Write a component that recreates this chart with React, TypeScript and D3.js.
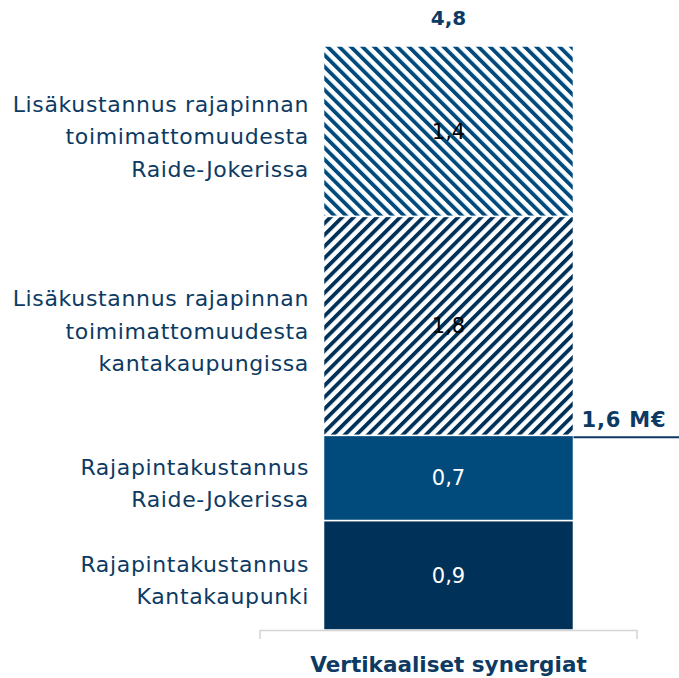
import { useEffect, useRef } from 'react';
import * as d3 from 'd3';

// data, bottom to top
const segmentNames = [
  ['Rajapintakustannus', 'Kantakaupunki'],
  ['Rajapintakustannus', 'Raide-Jokerissa'],
  ['Lisäkustannus rajapinnan', 'toimimattomuudesta', 'kantakaupungissa'],
  ['Lisäkustannus rajapinnan', 'toimimattomuudesta', 'Raide-Jokerissa'],
];
const segmentValues = [0.9, 0.7, 1.8, 1.4];
const segmentLabels = ['0,9', '0,7', '1,8', '1,4'];
const category = 'Vertikaaliset synergiat';
const totalLabel = '4,8';
const subtotalLabel = '1,6 M€';
const subtotalValue = 1.6;

const FONT = '"DejaVu Sans", Verdana, sans-serif';
const NAVY = '#003159';
const BLUE = '#004a7c';
const TEXT = '#0d3a62';

const App = () => {
  const svgRef = useRef<SVGSVGElement>(null);

  useEffect(() => {
    if (!svgRef.current) return;
    const svg = d3.select(svgRef.current);
    svg.selectAll('*').remove();

    const total = d3.sum(segmentValues);

    const x = d3.scaleBand()
      .domain([category])
      .range([260, 637])
      .paddingInner(0.2026)
      .paddingOuter(0.2026);

    const y = d3.scaleLinear()
      .domain([0, total])
      .range([630, 46]);

    // hatch patterns
    const defs = svg.append('defs');
    const hatch = (id: string, color: string, angle: number) => {
      const p = defs.append('pattern')
        .attr('id', id)
        .attr('patternUnits', 'userSpaceOnUse')
        .attr('width', 8.2)
        .attr('height', 8.2)
        .attr('patternTransform', `rotate(${angle})`);
      p.append('rect').attr('width', 8.2).attr('height', 8.2).attr('fill', '#fff');
      p.append('rect').attr('x', 0).attr('width', 3.8).attr('height', 8.2).attr('fill', color);
    };
    hatch('hatch-fwd', NAVY, 45);
    hatch('hatch-back', BLUE, -45);

    const fills = [NAVY, BLUE, 'url(#hatch-fwd)', 'url(#hatch-back)'];
    const textFills = ['#fff', '#fff', '#000', '#000'];

    const stacked = segmentValues.map((v, i) => {
      const y0 = d3.sum(segmentValues.slice(0, i));
      return { v, y0, y1: y0 + v, i };
    });

    const bx = x(category) || 0;
    const bw = x.bandwidth();

    const g = svg.append('g');

    g.selectAll('rect.seg')
      .data(stacked)
      .join('rect')
      .attr('class', 'seg')
      .attr('x', bx)
      .attr('width', bw)
      .attr('y', d => y(d.y1))
      .attr('height', d => y(d.y0) - y(d.y1))
      .attr('fill', d => fills[d.i])
      .attr('stroke', '#fff')
      .attr('stroke-width', 1.5);

    // values inside bar
    g.selectAll('text.val')
      .data(stacked)
      .join('text')
      .attr('class', 'val')
      .attr('x', bx + bw / 2)
      .attr('y', d => (y(d.y0) + y(d.y1)) / 2)
      .attr('dy', '0.36em')
      .attr('text-anchor', 'middle')
      .style('font-family', FONT)
      .style('font-size', '21px')
      .style('fill', d => textFills[d.i])
      .text(d => segmentLabels[d.i]);

    // segment names on the left
    const lineH = 32.5;
    stacked.forEach(d => {
      const lines = segmentNames[d.i];
      const cy = (y(d.y0) + y(d.y1)) / 2 + 5;
      const t = g.append('text')
        .attr('text-anchor', 'end')
        .style('font-family', FONT)
        .style('font-size', '22px')
        .style('letter-spacing', '0.65px')
        .style('fill', TEXT);
      lines.forEach((line, k) => {
        t.append('tspan')
          .attr('x', 309)
          .attr('y', cy + (k - (lines.length - 1) / 2) * lineH)
          .attr('dy', '0.36em')
          .text(line);
      });
    });

    // total label
    g.append('text')
      .attr('x', bx + bw / 2)
      .attr('y', y(total) - 28)
      .attr('dy', '0.36em')
      .attr('text-anchor', 'middle')
      .style('font-family', FONT)
      .style('font-size', '20px')
      .style('font-weight', 'bold')
      .style('fill', TEXT)
      .text(totalLabel);

    // subtotal marker
    g.append('line')
      .attr('x1', bx + bw)
      .attr('x2', 679)
      .attr('y1', y(subtotalValue) + 2)
      .attr('y2', y(subtotalValue) + 2)
      .attr('stroke', TEXT)
      .attr('stroke-width', 2);

    g.append('text')
      .attr('x', 624)
      .attr('y', y(subtotalValue) - 16)
      .attr('dy', '0.36em')
      .attr('text-anchor', 'middle')
      .style('font-family', FONT)
      .style('font-size', '21px')
      .style('font-weight', 'bold')
      .style('letter-spacing', '0.8px')
      .style('fill', TEXT)
      .text(subtotalLabel);

    // category axis
    const [r0, r1] = x.range();
    g.append('path')
      .attr('d', `M${r0},${y(0) + 9}V${y(0) + 0.5}H${r1}V${y(0) + 9}`)
      .attr('fill', 'none')
      .attr('stroke', '#d4d4d4')
      .attr('stroke-width', 1.5);

    g.append('text')
      .attr('x', bx + bw / 2)
      .attr('y', 664)
      .attr('dy', '0.36em')
      .attr('text-anchor', 'middle')
      .style('font-family', FONT)
      .style('font-size', '21.5px')
      .style('font-weight', 'bold')
      .style('fill', TEXT)
      .text(category);
  }, []);

  return (
    <svg
      ref={svgRef}
      width={679}
      height={678}
      style={{ position: 'absolute', left: 0, top: 0, background: '#fff' }}
    />
  );
};

export default App;
